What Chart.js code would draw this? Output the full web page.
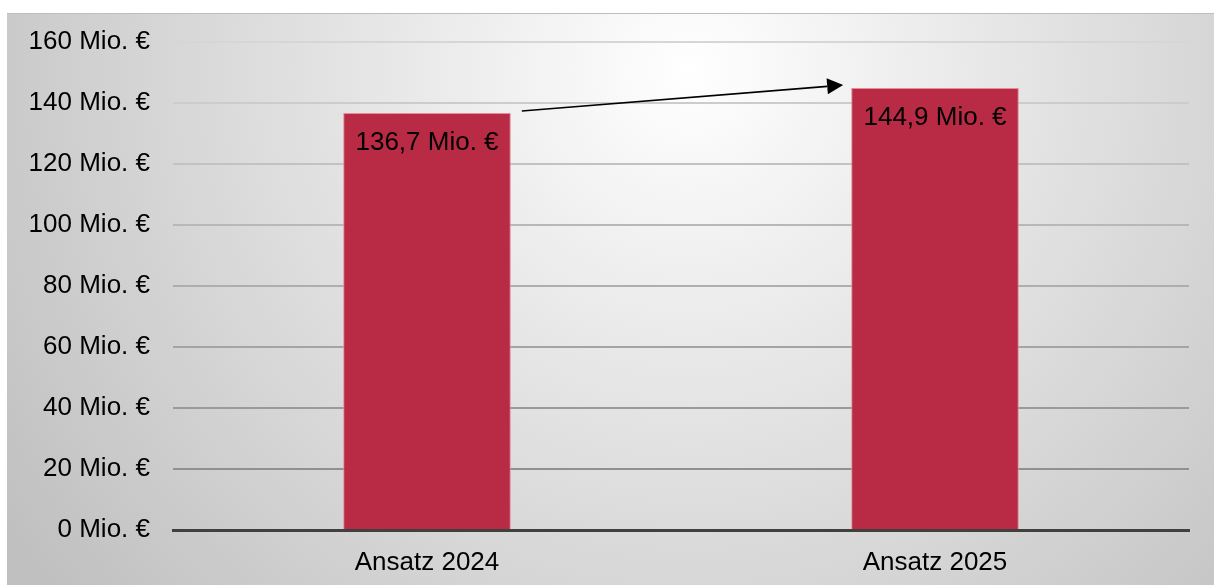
<!DOCTYPE html>
<html>
<head>
<meta charset="utf-8">
<script src="https://cdn.jsdelivr.net/npm/chart.js@4/dist/chart.umd.min.js"></script>
<style>
    html, body { margin: 0; padding: 0; background: #ffffff; }
    #wrap { width: 1214px; height: 585px; position: relative; }
</style>
</head>
<body>
<div id="wrap"><canvas id="chart" width="1214" height="585"></canvas></div>
<script>
// Chart data
const categories = ['Ansatz 2024', 'Ansatz 2025'];
const values = [136.7, 144.9];
const valueLabels = ['136,7 Mio. €', '144,9 Mio. €'];
const yTicks = [0, 20, 40, 60, 80, 100, 120, 140, 160];

const FONT = '"Liberation Sans", Arial, sans-serif';

// Radial grey background behind the whole chart
const backgroundPlugin = {
    id: 'background',
    beforeDraw(chart) {
        const ctx = chart.ctx;
        const w = chart.width, h = chart.height;
        ctx.save();
        const grad = ctx.createRadialGradient(690, 70, 0, 690, 70, 820);
        grad.addColorStop(0, '#ffffff');
        grad.addColorStop(0.45, '#e2e2e2');
        grad.addColorStop(1, '#c0c0c0');
        ctx.fillStyle = grad;
        ctx.fillRect(7, 13, w - 7, h - 13);
        ctx.strokeStyle = '#bdbdbd';
        ctx.lineWidth = 1;
        ctx.beginPath();
        ctx.moveTo(7, 13.5);
        ctx.lineTo(w, 13.5);
        ctx.stroke();
        ctx.restore();
    }
};

// Value labels inside the bars + arrow between the bar tops
const annotationPlugin = {
    id: 'annotations',
    afterDatasetsDraw(chart) {
        const ctx = chart.ctx;
        const meta = chart.getDatasetMeta(0);
        const yScale = chart.scales.y;
        ctx.save();
        ctx.font = '26px ' + FONT;
        ctx.fillStyle = '#000000';
        ctx.textAlign = 'center';
        ctx.textBaseline = 'middle';
        meta.data.forEach((bar, i) => {
            ctx.fillText(valueLabels[i], bar.x, bar.y + 30);
        });

        // arrow
        const b1 = meta.data[0], b2 = meta.data[1];
        const x1 = b1.x + b1.width / 2 + 11;
        const y1 = yScale.getPixelForValue(values[0]) - 2;
        const x2 = b2.x - b2.width / 2 - 8;
        const y2 = yScale.getPixelForValue(values[1]) - 3;
        const ang = Math.atan2(y2 - y1, x2 - x1);
        const headLen = 16, headW = 8;
        const bx = x2 - headLen * Math.cos(ang), by = y2 - headLen * Math.sin(ang);
        ctx.strokeStyle = '#000000';
        ctx.lineWidth = 1.6;
        ctx.beginPath();
        ctx.moveTo(x1, y1);
        ctx.lineTo(bx, by);
        ctx.stroke();
        ctx.fillStyle = '#000000';
        ctx.beginPath();
        ctx.moveTo(x2, y2);
        ctx.lineTo(bx + headW * Math.sin(ang), by - headW * Math.cos(ang));
        ctx.lineTo(bx - headW * Math.sin(ang), by + headW * Math.cos(ang));
        ctx.closePath();
        ctx.fill();
        ctx.restore();
    }
};

function gridColor(value) {
    // gridlines look darker towards the bottom of the chart
    const t = value / 160;
    const c = Math.round(0x86 + (0xd6 - 0x86) * t);
    return 'rgb(' + c + ',' + c + ',' + c + ')';
}

new Chart(document.getElementById('chart'), {
    type: 'bar',
    data: {
        labels: categories,
        datasets: [{
            data: values,
            backgroundColor: '#b92a45',
            borderColor: '#e58c9e',
            borderWidth: { left: 1, right: 1, top: 1, bottom: 0 },
            borderSkipped: false,
            barPercentage: 0.66,
            categoryPercentage: 0.5
        }]
    },
    options: {
        responsive: false,
        animation: false,
        layout: { padding: { top: 0, right: 25, bottom: 0, left: 0 } },
        plugins: {
            legend: { display: false },
            tooltip: { enabled: false }
        },
        scales: {
            x: {
                grid: { display: false, drawTicks: false },
                border: { display: true, color: '#404040', width: 3 },
                ticks: {
                    color: '#000000',
                    padding: 17,
                    font: { family: FONT, size: 26 }
                },
                afterFit(scale) { scale.height = 55; }
            },
            y: {
                min: 0,
                max: 160,
                afterBuildTicks(scale) {
                    scale.ticks = yTicks.map(v => ({ value: v }));
                },
                grid: {
                    drawTicks: false,
                    lineWidth: 2,
                    color: ctx => ctx.tick && ctx.tick.value === 0 ? 'rgba(0,0,0,0)' : gridColor(ctx.tick ? ctx.tick.value : 0)
                },
                border: { display: false },
                ticks: {
                    color: '#000000',
                    padding: 23,
                    font: { family: FONT, size: 26 },
                    callback: v => v + ' Mio. €'
                },
                afterFit(scale) { scale.width = 173; scale.paddingTop = 42; }
            }
        }
    },
    plugins: [backgroundPlugin, annotationPlugin]
});
</script>
</body>
</html>
